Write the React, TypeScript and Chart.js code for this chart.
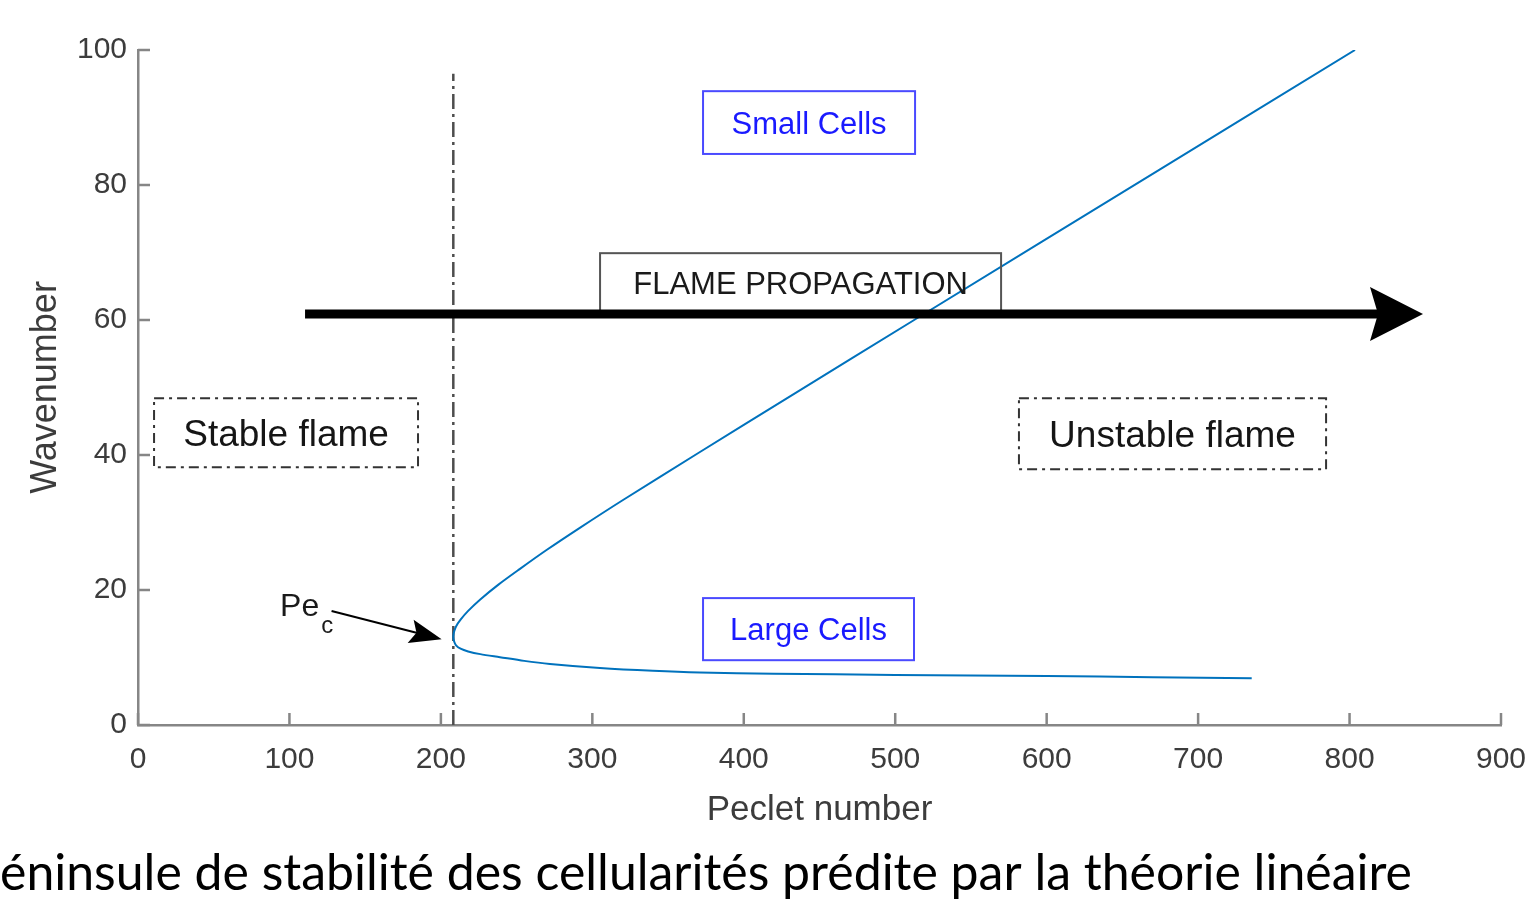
import React, { useEffect, useRef } from "react";
import { Chart, registerables } from "chart.js";

Chart.register(...registerables);

// ---------- data ----------
const xTicks = [0, 100, 200, 300, 400, 500, 600, 700, 800, 900];
const yTicks = [0, 20, 40, 60, 80, 100];

// neutral stability curve: lower branch (large cells), from right end to the nose
const peLower = [735.4, 670, 600, 500, 420, 371, 340, 305, 272, 255, 239, 226, 218, 213, 210, 208.7];
const kLower = [6.92, 7.08, 7.25, 7.42, 7.6, 7.78, 8.03, 8.45, 9.05, 9.5, 10.05, 10.5, 10.9, 11.3, 11.8, 12.4];
// nose (critical Peclet number)
const peNose = [208.2];
const kNose = [13.1];
// upper branch (small cells), from the nose upwards
const peUpper = [208.7, 210, 213, 218, 226, 238, 252, 270, 292, 320, 370, 430, 512.5, 677, 803.6];
const kUpper = [13.8, 14.6, 15.6, 16.9, 18.6, 20.8, 23.1, 25.96, 29.25, 33.3, 40.3, 48.6, 60, 82.6, 100];

// vertical dash-dot line at Pe_c
const peCritical = [208.2, 208.2];
const kCritical = [0, 96.5];

const captionText = "éninsule de stabilité des cellularités prédite par la théorie linéaire";

// ---------- styles ----------
const FONT = '"Liberation Sans", Arial, Helvetica, sans-serif';
const AXIS = "#868686";
const LABEL = "#3c3c3c";

const curvePe = [...peLower, ...peNose, ...peUpper];
const curveK = [...kLower, ...kNose, ...kUpper];

function drawBox(ctx: CanvasRenderingContext2D, X: (v: number) => number, Y: (v: number) => number,
  b: { x0: number; x1: number; y0: number; y1: number; text: string; stroke: string; color: string; size: number; dash: number[]; lw: number }) {
  const x0 = X(b.x0), x1 = X(b.x1), y0 = Y(b.y0), y1 = Y(b.y1);
  ctx.save();
  ctx.strokeStyle = b.stroke;
  ctx.lineWidth = b.lw;
  ctx.setLineDash(b.dash);
  ctx.strokeRect(Math.min(x0, x1), Math.min(y0, y1), Math.abs(x1 - x0), Math.abs(y1 - y0));
  ctx.setLineDash([]);
  ctx.fillStyle = b.color;
  ctx.font = `${b.size}px ${FONT}`;
  ctx.textAlign = "center";
  ctx.textBaseline = "alphabetic";
  const cx = (x0 + x1) / 2, cy = (y0 + y1) / 2;
  ctx.fillText(b.text, cx, cy + 0.358 * b.size);
  ctx.restore();
}

function drawArrow(ctx: CanvasRenderingContext2D, x0: number, y0: number, x1: number, y1: number,
  width: number, headLen: number, headHalf: number, notch: number) {
  const dx = x1 - x0, dy = y1 - y0, L = Math.hypot(dx, dy);
  const ux = dx / L, uy = dy / L, nx = -uy, ny = ux;
  const bx = x1 - ux * headLen, by = y1 - uy * headLen;
  const mx = x1 - ux * (headLen - notch), my = y1 - uy * (headLen - notch);
  ctx.save();
  ctx.strokeStyle = "#000";
  ctx.fillStyle = "#000";
  ctx.lineWidth = width;
  ctx.lineCap = "butt";
  ctx.beginPath();
  ctx.moveTo(x0, y0);
  ctx.lineTo(mx + ux * 2, my + uy * 2);
  ctx.stroke();
  ctx.beginPath();
  ctx.moveTo(x1, y1);
  ctx.lineTo(bx + nx * headHalf, by + ny * headHalf);
  ctx.lineTo(mx, my);
  ctx.lineTo(bx - nx * headHalf, by - ny * headHalf);
  ctx.closePath();
  ctx.fill();
  ctx.restore();
}

const annotations = {
  id: "annotations",
  afterDatasetsDraw(chart: any) {
    const { ctx, scales } = chart;
    const xs = scales.x, ys = scales.y;
    const X = (v: number) => xs.getPixelForValue(v);
    const Y = (v: number) => ys.getPixelForValue(v);

    // inward tick marks (MATLAB style)
    ctx.save();
    ctx.strokeStyle = AXIS;
    ctx.lineWidth = 2.5;
    ctx.beginPath();
    xTicks.forEach((t) => {
      ctx.moveTo(X(t), Y(0));
      ctx.lineTo(X(t), Y(0) - 12);
    });
    yTicks.forEach((t) => {
      ctx.moveTo(X(0), Y(t));
      ctx.lineTo(X(0) + 12, Y(t));
    });
    ctx.stroke();
    ctx.restore();

    const dashDot = [10, 5, 3, 5];
    drawBox(ctx, X, Y, { x0: 373.1, x1: 513.1, y0: 93.9, y1: 84.6, text: "Small Cells", stroke: "#4a4aff", color: "#1a1aff", size: 31, dash: [], lw: 2 });
    drawBox(ctx, X, Y, { x0: 373.1, x1: 512.4, y0: 18.8, y1: 9.6, text: "Large Cells", stroke: "#4a4aff", color: "#1a1aff", size: 31, dash: [], lw: 2 });
    drawBox(ctx, X, Y, { x0: 305.1, x1: 569.9, y0: 69.9, y1: 61.0, text: "FLAME PROPAGATION", stroke: "#555", color: "#1a1a1a", size: 31, dash: [], lw: 2 });
    drawBox(ctx, X, Y, { x0: 10.6, x1: 184.9, y0: 48.4, y1: 38.2, text: "Stable flame", stroke: "#333", color: "#151515", size: 37, dash: dashDot, lw: 2 });
    drawBox(ctx, X, Y, { x0: 581.7, x1: 784.5, y0: 48.4, y1: 37.9, text: "Unstable flame", stroke: "#333", color: "#151515", size: 37, dash: dashDot, lw: 2 });

    // big propagation arrow
    drawArrow(ctx, X(110.3), Y(60.9), X(848.5), Y(60.9), 9, 53, 27, 8);

    // Pe_c label and arrow
    ctx.save();
    ctx.fillStyle = "#1a1a1a";
    ctx.textAlign = "left";
    ctx.textBaseline = "alphabetic";
    ctx.font = `32px ${FONT}`;
    ctx.fillText("Pe", X(93.8), Y(16.1));
    const peW = ctx.measureText("Pe").width;
    ctx.font = `24px ${FONT}`;
    ctx.fillText("c", X(93.8) + peW + 2, Y(13.7));
    ctx.restore();
    drawArrow(ctx, X(127.8), Y(16.9), X(200.5), Y(12.7), 2, 32, 12, 6);

    // caption below the figure
    ctx.save();
    ctx.fillStyle = "#000";
    ctx.font = `51px Lato, "Open Sans", sans-serif`;
    ctx.textAlign = "left";
    ctx.textBaseline = "alphabetic";
    const w = ctx.measureText(captionText).width;
    const sx = 1412 / w;
    ctx.translate(0, 890);
    ctx.scale(sx, 1);
    ctx.fillText(captionText, 0, 0);
    ctx.restore();
  },
};

export default function App() {
  const ref = useRef<HTMLCanvasElement | null>(null);

  useEffect(() => {
    if (!ref.current) return;
    const chart = new Chart(ref.current, {
      type: "scatter",
      data: {
        datasets: [
          {
            label: "Neutral stability",
            data: curvePe.map((x, i) => ({ x, y: curveK[i] })),
            showLine: true,
            borderColor: "#0072BD",
            borderWidth: 2,
            pointRadius: 0,
            tension: 0.3,
            fill: false,
          },
          {
            label: "Pe_c",
            data: peCritical.map((x, i) => ({ x, y: kCritical[i] })),
            showLine: true,
            borderColor: "#4d4d4d",
            borderWidth: 2.5,
            borderDash: [15, 5, 3, 5],
            pointRadius: 0,
            fill: false,
          },
        ],
      },
      options: {
        animation: false,
        responsive: false,
        maintainAspectRatio: false,
        layout: { padding: { left: 0, top: 50, right: 26, bottom: 0 } },
        plugins: {
          legend: { display: false },
          tooltip: { enabled: false },
        },
        scales: {
          x: {
            type: "linear",
            min: 0,
            max: 900,
            afterBuildTicks: (s: any) => {
              s.ticks = xTicks.map((v) => ({ value: v }));
            },
            afterFit: (s: any) => {
              s.height = 184;
              s.paddingLeft = 0;
              s.paddingRight = 0;
            },
            grid: { display: true, drawOnChartArea: false, drawTicks: false },
            border: { display: true, color: AXIS, width: 2.5 },
            ticks: {
              color: LABEL,
              font: { family: FONT, size: 30 },
              padding: 17,
              maxRotation: 0,
              autoSkip: false,
            },
            title: {
              display: true,
              text: "Peclet number",
              color: LABEL,
              font: { family: FONT, size: 35 },
              padding: { top: 0, bottom: 78 },
            },
          },
          y: {
            type: "linear",
            min: 0,
            max: 100,
            afterBuildTicks: (s: any) => {
              s.ticks = yTicks.map((v) => ({ value: v }));
            },
            afterFit: (s: any) => {
              s.width = 138;
              s.paddingTop = 0;
              s.paddingBottom = 0;
            },
            grid: { display: true, drawOnChartArea: false, drawTicks: false },
            border: { display: true, color: AXIS, width: 2.5 },
            ticks: {
              color: LABEL,
              font: { family: FONT, size: 30 },
              padding: 11,
              autoSkip: false,
            },
            title: {
              display: true,
              text: "Wavenumber",
              color: LABEL,
              font: { family: FONT, size: 36 },
              padding: { top: 24, bottom: 0 },
            },
          },
        },
      },
      plugins: [annotations],
    } as any);
    return () => chart.destroy();
  }, []);

  return (
    <div style={{ position: "fixed", left: 0, top: 0, width: 1527, height: 909, background: "#fff" }}>
      <canvas ref={ref} width={1527} height={909} style={{ display: "block" }} />
    </div>
  );
}
